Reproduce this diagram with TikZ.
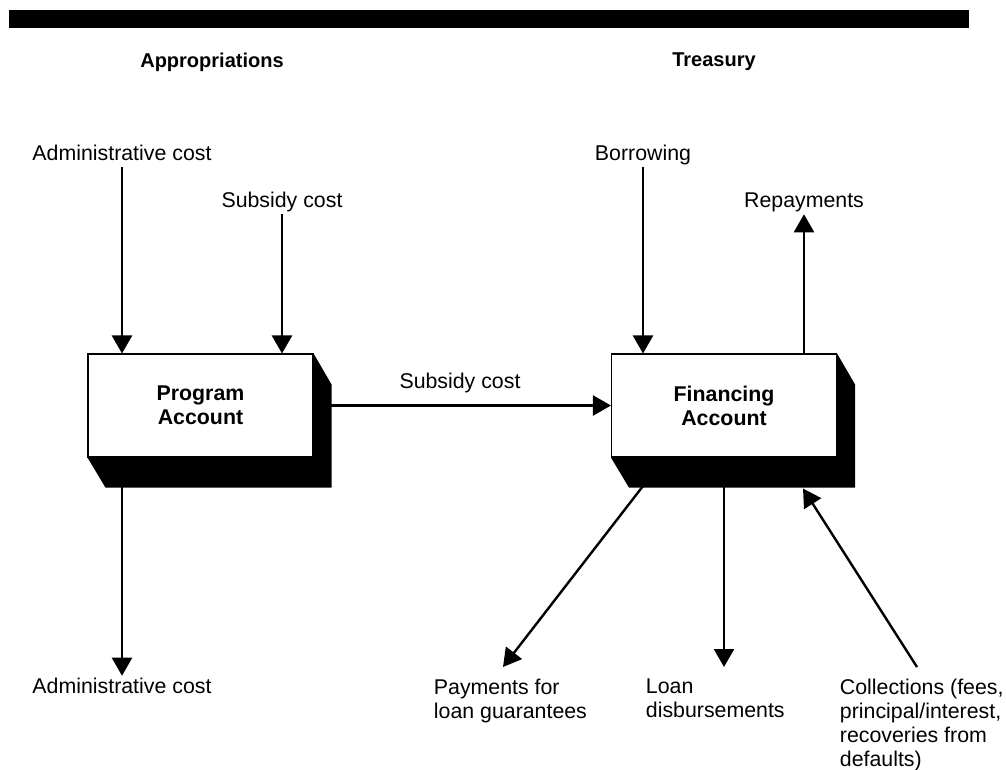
\documentclass[tikz,border=0pt]{standalone}
\usepackage{fontspec}
\setmainfont{Liberation Sans}
\usetikzlibrary{arrows.meta,positioning}
\tikzset{
    %Define standard arrow tip
    >={Triangle[length=13.5pt,width=15pt]},
    %Define style for the account boxes
    account/.style={
           rectangle,
           draw=black, line width=0.8pt,
           fill=white,
           minimum width=168.75pt,
           minimum height=77.25pt,
           align=center,
           font=\fontsize{16}{18}\selectfont\bfseries},
    heading/.style={
          font=\fontsize{15}{18}\selectfont\bfseries
    },
    annote/.style={
          font=\fontsize{16}{18}\selectfont,
          text height=11pt, text depth=3pt, inner sep=2pt
    },
    block/.style={
          font=\fontsize{16}{18}\selectfont,
          anchor=north west, align=left, inner sep=2pt
    },
    shadow/.style={fill=black},
    % Define arrow style
    arrow/.style={
           ->,
           line width=1.8pt},
}
\begin{document}
\begin{tikzpicture}[x=0.75pt,y=-0.75pt]
  \useasboundingbox (0,0) rectangle (1006,769);
  \fill (9,10) rectangle (969,28);
  \node[heading] (appr)  at (212,62) {Appropriations};
  \node[heading] (treas) at (714,62) {Treasury};

  \node[account] (prog) at (200.5,405.5) {Program\\Account};
  \node[account] (fin)  at (724,405.5)   {Financing\\Account};
  % 3-d shadows of the boxes
  \foreach \acct in {prog,fin}
    \fill[shadow] (\acct.north east) -- ++(18,31)
          -- ([shift={(18,30)}]\acct.south east)
          -- ([shift={(18,30)}]\acct.south west)
          -- (\acct.south west) -- (\acct.south east) -- cycle;

  \node[annote] (admin-in)  at (122,155) {Administrative cost};
  \node[annote] (subs-in)   at (282,202) {Subsidy cost};
  \node[annote] (admin-out) at (122,688) {Administrative cost};
  \node[annote] (subs-mid)  at (460,383) {Subsidy cost};
  \node[annote] (borrow)    at (643,155) {Borrowing};
  \node[annote] (repay)     at (804,202) {Repayments};
  \node[block] (pay)  at (431,676) {Payments for\\loan guarantees};
  \node[block] (loan) at (643,676) {Loan\\disbursements};
  \node[block] (coll) at (837,676) {Collections (fees,\\principal/interest,\\recoveries from\\defaults)};

  \coordinate (pay-tip)  at (503,667);
  \coordinate (coll-end) at (917,667);

  \draw[arrow] (admin-in.south) -- (admin-in.south |- prog.north);
  \draw[arrow] (subs-in.south) -- (subs-in.south |- prog.north);
  \draw[arrow] (admin-out.north |- prog.south) -- (admin-out.north);
  \draw[arrow] (prog.east) -- (fin.west);
  \draw[arrow] (borrow.south) -- (borrow.south |- fin.north);
  \draw[arrow] (repay.south |- fin.north) -- (repay.south);
  \draw[arrow] ([shift={(-76,22)}]fin.south) -- (pay-tip);
  \draw[arrow] (fin.south) -- (fin.south |- pay-tip);
  \draw[arrow] (coll-end) -- ([shift={(79,31)}]fin.south);
\end{tikzpicture}
\end{document}
